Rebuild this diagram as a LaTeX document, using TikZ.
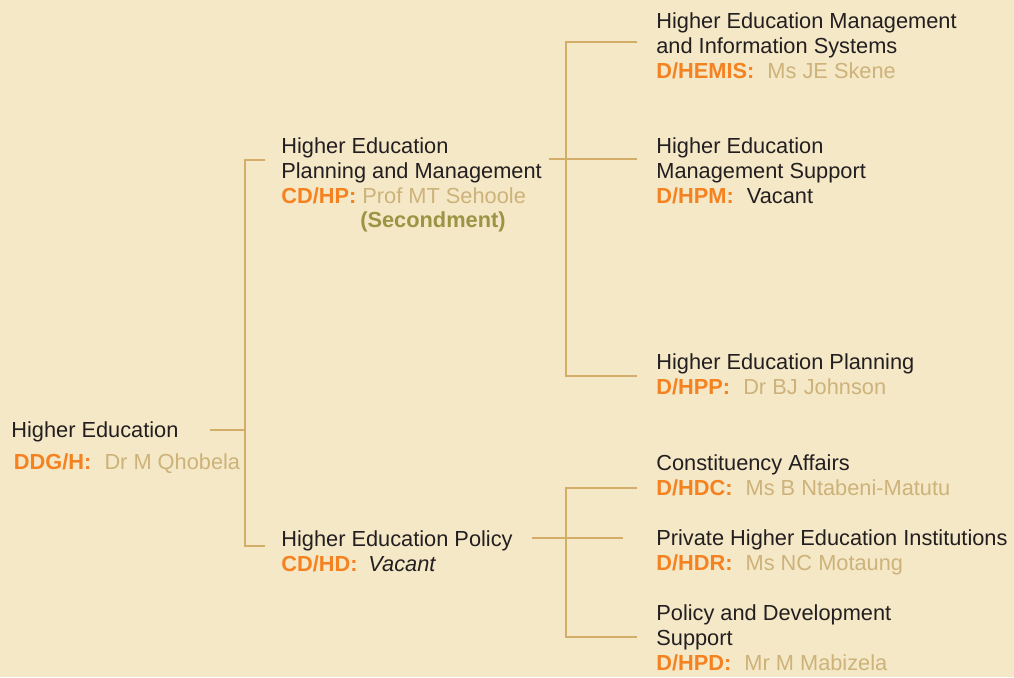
\documentclass[tikz,border=0pt]{standalone}
\usepackage{fontspec}
\setmainfont{Liberation Sans}
\usetikzlibrary{positioning}

\definecolor{paper}{HTML}{F5E8C7}
\definecolor{ink}{HTML}{231F20}
\definecolor{postorange}{HTML}{F58220}
\definecolor{nametan}{HTML}{CDB27A}
\definecolor{linktan}{HTML}{D2AE68}
\definecolor{olive}{HTML}{9C9445}

\newcommand{\postcode}[1]{\textcolor{postorange}{\textbf{#1}}}
\newcommand{\holder}[1]{\textcolor{nametan}{#1}}

\tikzset{
    post/.style={anchor=north west, inner sep=0pt, align=left, text=ink,
        font=\fontsize{12.4}{14.2}\selectfont},
    link/.style={draw=linktan, line width=0.85pt}
}

\begin{document}
\begin{tikzpicture}[x=0.02cm, y=-0.02cm]
        \fill[paper] (0,0) rectangle (1014,677);
        \useasboundingbox (0,0) rectangle (1014,677);

        % posts
        \node[post] (ddg) at (11,421) {Higher Education\\[4.4pt]
            \hspace*{1.5pt}\postcode{DDG/H:}\hspace{0.6em}\holder{Dr M Qhobela}};
        \node[post] (cdhp) at (281,137) {Higher Education\\Planning and Management\\
            \postcode{CD/HP:} \holder{Prof MT Sehoole}\\
            \hspace*{1.58cm}\textcolor{olive}{\textbf{(Secondment)}}};
        \node[post] (cdhd) at (281,530) {Higher Education Policy\\
            \postcode{CD/HD:}\hspace{0.5em}\textit{Vacant}};
        \node[post] (hemis) at (656,12) {Higher Education Management\\and Information Systems\\
            \postcode{D/HEMIS:}\hspace{0.6em}\holder{Ms JE Skene}};
        \node[post] (hpm) at (656,137) {Higher Education\\Management Support\\
            \postcode{D/HPM:}\hspace{0.6em}Vacant};
        \node[post] (hpp) at (656,353) {Higher Education Planning\\
            \postcode{D/HPP:}\hspace{0.6em}\holder{Dr BJ Johnson}};
        \node[post] (hdc) at (656,454) {Constituency Affairs\\
            \postcode{D/HDC:}\hspace{0.6em}\holder{Ms B Ntabeni-Matutu}};
        \node[post] (hdr) at (656,529) {Private Higher Education Institutions\\
            \postcode{D/HDR:}\hspace{0.6em}\holder{Ms NC Motaung}};
        \node[post] (hpd) at (656,604) {Policy and Development\\Support\\
            \postcode{D/HPD:}\hspace{0.6em}\holder{Mr M Mabizela}};

        % junction points of the trunks
        \coordinate (ddgout) at (210,430);
        \coordinate (trunkA) at (245,430);
        \coordinate (aTop) at (245,160);
        \coordinate (aBot) at (245,546);
        \coordinate (toHp) at (265,160);
        \coordinate (toHd) at (265,546);
        \coordinate (hpout) at (549,159);
        \coordinate (bTop) at (566,42);
        \coordinate (bBot) at (566,376);
        \coordinate (toHemis) at (637,42);
        \coordinate (toHpm) at (637,159);
        \coordinate (toHpp) at (637,376);
        \coordinate (hdout) at (532,538);
        \coordinate (cTop) at (566,488);
        \coordinate (cBot) at (566,637);
        \coordinate (toHdc) at (637,488);
        \coordinate (toHdr) at (623,538);
        \coordinate (toHpd) at (637,637);

        \draw[link] (ddgout) -- (trunkA);
        \draw[link] (toHp) -- (aTop) -- (aBot) -- (toHd);
        \draw[link] (hpout) -- (toHpm);
        \draw[link] (toHemis) -- (bTop) -- (bBot) -- (toHpp);
        \draw[link] (hdout) -- (toHdr);
        \draw[link] (toHdc) -- (cTop) -- (cBot) -- (toHpd);
    \end{tikzpicture}
\end{document}
